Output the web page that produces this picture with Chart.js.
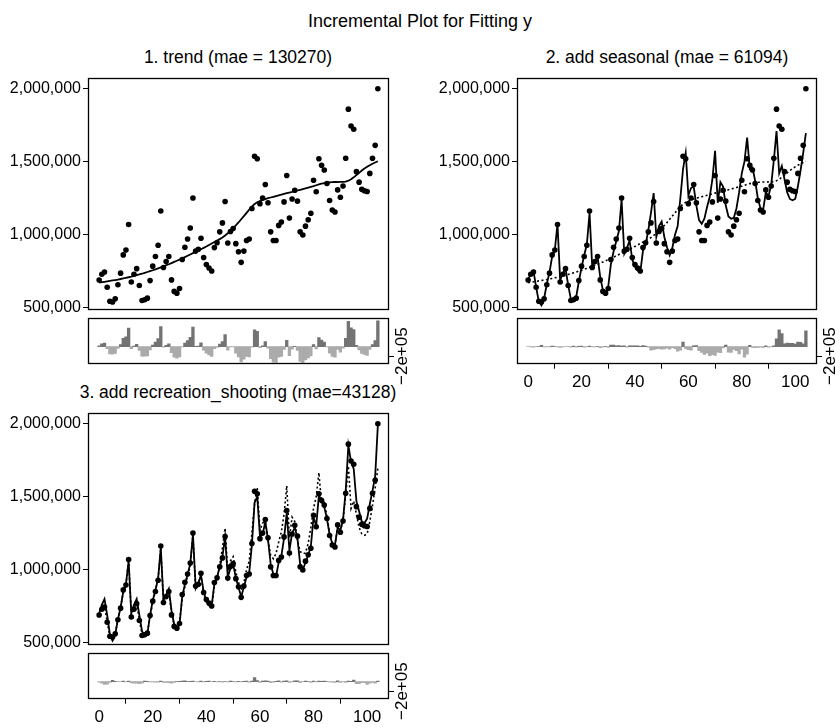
<!DOCTYPE html>
<html>
<head>
<meta charset="utf-8">
<script src="https://cdn.jsdelivr.net/npm/chart.js@4.4.1/dist/chart.umd.min.js"></script>
<style>
  body { margin: 0; background: #fff; width: 840px; height: 728px; position: relative; overflow: hidden;
         font-family: "Liberation Sans", Arial, sans-serif; }
  canvas { position: absolute; }
  .t { position: absolute; font-size: 17.5px; line-height: 20px; color: #000; white-space: nowrap; transform: translateX(-50%); }
</style>
</head>
<body>
<div class="t" style="left:420px;top:11px;font-size:18px">Incremental Plot for Fitting y</div>
<div class="t" style="left:238px;top:47px">1. trend (mae = 130270)</div>
<div class="t" style="left:667px;top:47px">2. add seasonal (mae = 61094)</div>
<div class="t" style="left:238px;top:382px">3. add recreation_shooting (mae=43128)</div>

<canvas id="m1" width="420" height="256" style="left:0;top:66px"></canvas>
<canvas id="r1" width="420" height="100" style="left:0;top:300px"></canvas>
<canvas id="m2" width="411" height="256" style="left:429px;top:66px"></canvas>
<canvas id="r2" width="411" height="100" style="left:429px;top:300px"></canvas>
<canvas id="m3" width="420" height="256" style="left:0;top:401px"></canvas>
<canvas id="r3" width="420" height="93" style="left:0;top:635px"></canvas>

<script>
// all values in thousands, one per period 0..104
const actual = [
  690, 730, 745, 640, 545, 540, 561, 658, 737, 862, 895, 1070,
  676, 730, 768, 653, 550, 555, 566, 686, 785, 851, 928, 1163,
  776, 816, 851, 691, 612, 600, 632, 831, 914, 971, 1046, 1252,
  888, 901, 976, 844, 796, 772, 752, 912, 945, 1020, 1081, 1228,
  943, 1022, 1042, 939, 884, 811, 888, 961, 971, 1180, 1537, 1520,
  1213, 1252, 1344, 1219, 1020, 961, 961, 1064, 1087, 1225,
  1406, 1114, 1245, 1305, 1230, 1020, 998, 1059, 1103, 1147,
  1373, 1294, 1520, 1476, 1443, 1351, 1235, 1169, 1156, 1307, 1257, 1333, 1524,
  1860, 1745, 1722, 1432, 1360, 1311, 1301, 1296, 1420, 1524, 1612, 2000
];
// 1. trend
const trendFit = [
  672, 675, 678, 681, 684, 687, 690, 693, 697, 701,
  705, 709, 713, 718, 723, 728, 733, 739, 745, 751,
  757, 763, 770, 777, 784, 791, 798, 806, 814, 822,
  830, 838, 847, 856, 865, 874, 883, 892, 901, 910,
  920, 930, 940, 950, 960, 970, 981, 995, 1010, 1028,
  1046, 1064, 1084, 1106, 1128, 1150, 1172, 1192, 1210, 1222,
  1231, 1238, 1244, 1250, 1255, 1260, 1265, 1270, 1275, 1280,
  1285, 1289, 1293, 1298, 1303, 1308, 1313, 1318, 1323, 1328,
  1333, 1339, 1345, 1350, 1354, 1357, 1359, 1360, 1361, 1361,
  1362, 1362, 1364, 1370, 1380, 1393, 1408, 1424, 1440, 1453,
  1465, 1476, 1486, 1495, 1503
];
// 2. trend + seasonal
const seasonalFit = [
  692, 735, 753, 641, 544, 517, 565, 663, 742, 851, 895, 1074,
  690, 735, 770, 655, 560, 545, 575, 680, 775, 860, 935, 1150,
  780, 820, 850, 710, 620, 600, 645, 800, 885, 955, 1025, 1240,
  870, 910, 960, 830, 780, 755, 745, 890, 935, 1030, 1150, 1285,
  985, 1060, 1090, 985, 915, 860, 910, 1000, 1060, 1250, 1450, 1560,
  1270, 1320, 1330, 1200, 1100, 1075, 1110, 1190, 1260, 1380, 1575,
  1219, 1360, 1330, 1200, 1125, 1110, 1115, 1180, 1290, 1420, 1500, 1665,
  1450, 1460, 1370, 1250, 1180, 1170, 1290, 1265, 1340, 1510, 1710,
  1420, 1470, 1380, 1290, 1245, 1236, 1245, 1330, 1440, 1560, 1695
];
// 3. + recreation_shooting
const shootingFit = [
  700, 760, 800, 690, 560, 515, 555, 660, 740, 850, 900, 1060,
  700, 760, 800, 690, 580, 545, 560, 690, 790, 860, 940, 1150,
  790, 830, 870, 720, 625, 600, 625, 820, 900, 970, 1040, 1240,
  890, 905, 965, 850, 790, 760, 755, 905, 950, 1020, 1090, 1225,
  950, 1010, 1040, 945, 880, 815, 880, 950, 980, 1170, 1460, 1500,
  1230, 1240, 1330, 1210, 1040, 970, 955, 1050, 1095, 1215,
  1390, 1130, 1250, 1290, 1215, 1040, 1000, 1050, 1100, 1160,
  1360, 1300, 1510, 1470, 1430, 1350, 1240, 1180, 1170, 1290, 1270, 1340, 1540,
  1850, 1740, 1690, 1470, 1400, 1330, 1320, 1350, 1450, 1540, 1640, 1990
];
const yTicks = [500000, 1000000, 1500000, 2000000];
const xTicks = [0, 20, 40, 60, 80, 100];
const resTicks = [-200000, 0, 200000, 400000];

const xMin = -4.16, xMax = 108.16;
const yMin = 482000, yMax = 2076000;
const resMin = -330000, resMax = 550000;

Chart.defaults.font.family = '"Liberation Sans", Arial, sans-serif';
Chart.defaults.font.size = 16;
Chart.defaults.color = '#000';

const toPts = arr => arr.map((v, i) => ({ x: i, y: v * 1000 }));

// R-style box round the plot region
const framePlugin = {
  id: 'frame',
  afterDraw(chart) {
    const a = chart.chartArea, c = chart.ctx;
    const l = Math.round(a.left) + 0.5, t = Math.round(a.top) + 0.5;
    const r = Math.round(a.right) - 0.5, b = Math.round(a.bottom) - 0.5;
    c.save();
    c.strokeStyle = '#000';
    c.lineWidth = 1.3;
    c.strokeRect(l, t, r - l, b - t);
    c.restore();
  }
};

const tickGrid = { drawOnChartArea: false, tickLength: 5, color: '#000', lineWidth: 1 };

function mainChart(id, datasets, padRight) {
  new Chart(document.getElementById(id), {
    data: { datasets: datasets },
    options: {
      responsive: false,
      animation: false,
      layout: { padding: { top: 9.7, bottom: 4, left: 0, right: padRight } },
      plugins: { legend: { display: false }, tooltip: { enabled: false } },
      scales: {
        x: { type: 'linear', min: xMin, max: xMax, display: false },
        y: {
          min: yMin, max: yMax,
          afterBuildTicks: s => { s.ticks = yTicks.map(v => ({ value: v })); },
          afterFit: s => { s.width = 88; },
          grid: tickGrid,
          border: { display: false },
          ticks: { padding: 2, callback: v => v.toLocaleString('en-US') }
        }
      }
    },
    plugins: [framePlugin]
  });
}

function pointsSet() {
  return { type: 'scatter', data: toPts(actual), pointRadius: 2.8, pointBackgroundColor: '#000',
           pointBorderWidth: 0, order: 0 };
}
function lineSet(arr, dashed) {
  return { type: 'line', data: toPts(arr), borderColor: '#000', borderWidth: dashed ? 1.6 : 1.8,
           borderDash: dashed ? [2, 2.5] : [], pointRadius: 0, tension: 0, fill: false, order: 1 };
}

function residChart(id, fit, padRight, xHeight, padBottom) {
  const res = actual.map((v, i) => (v - fit[i]) * 1000);
  new Chart(document.getElementById(id), {
    type: 'bar',
    data: {
      datasets: [{
        data: res.map((v, i) => ({ x: i, y: v })),
        backgroundColor: res.map(v => v >= 0 ? '#737373' : '#ababab'),
        borderWidth: 0,
        barPercentage: 1,
        categoryPercentage: 1
      }]
    },
    options: {
      responsive: false,
      animation: false,
      layout: { padding: { top: 18, left: 88, right: 0, bottom: padBottom } },
      plugins: { legend: { display: false }, tooltip: { enabled: false } },
      scales: {
        x: {
          type: 'linear', min: xMin, max: xMax, offset: false,
          display: xHeight > 0,
          afterBuildTicks: s => { s.ticks = xTicks.map(v => ({ value: v })); },
          afterFit: s => { s.height = xHeight; },
          grid: tickGrid,
          border: { display: false },
          ticks: { padding: 3, maxRotation: 0, font: { size: 17 } }
        },
        y: {
          position: 'right', min: resMin, max: resMax,
          afterBuildTicks: s => { s.ticks = resTicks.map(v => ({ value: v })); },
          afterFit: s => { s.width = padRight; },
          grid: tickGrid,
          border: { display: false },
          ticks: {
            padding: 8, minRotation: 90, maxRotation: 90, labelOffset: 28, font: { size: 17 },
            callback: v => v === -200000 ? '\u22122e+05' : ''
          }
        }
      }
    },
    plugins: [framePlugin]
  });
}

mainChart('m1', [pointsSet(), lineSet(trendFit, false)], 31);
mainChart('m2', [pointsSet(), lineSet(seasonalFit, false), lineSet(trendFit, true)], 23);
mainChart('m3', [pointsSet(), lineSet(shootingFit, false), lineSet(seasonalFit, true)], 31);

residChart('r1', trendFit, 31, 0, 36.3);
residChart('r2', seasonalFit, 23, 36.3, 0);
residChart('r3', shootingFit, 31, 29.3, 0);
</script>
</body>
</html>
